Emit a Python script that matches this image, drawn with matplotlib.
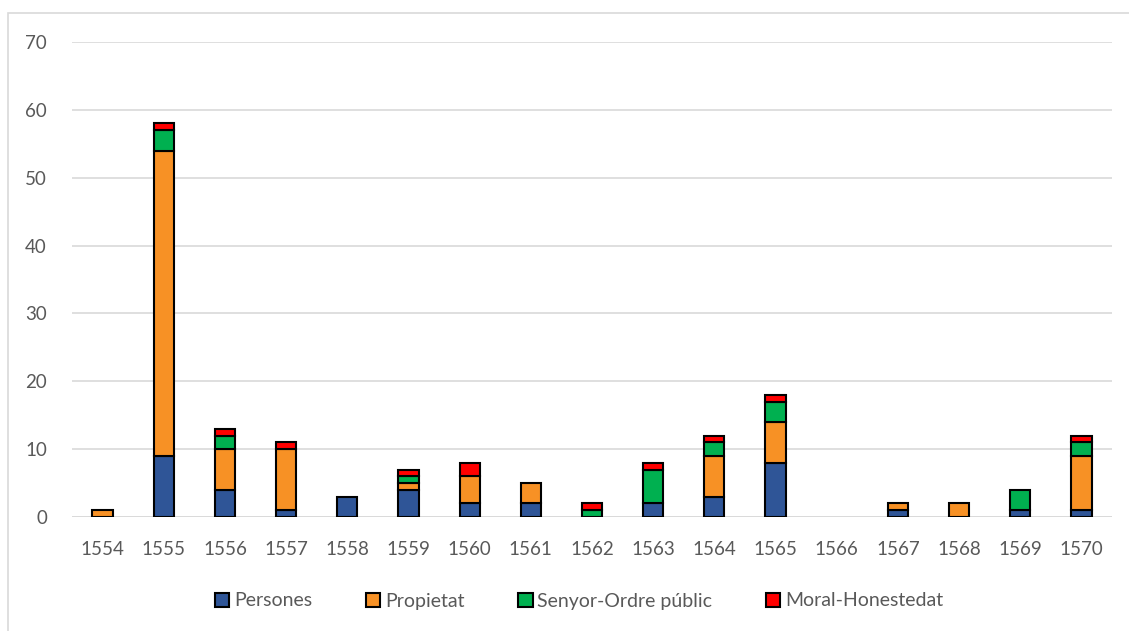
import matplotlib
matplotlib.use("Agg")
import matplotlib.pyplot as plt
from matplotlib.patches import Rectangle
import numpy as np

years = ["1554","1555","1556","1557","1558","1559","1560","1561","1562",
         "1563","1564","1565","1566","1567","1568","1569","1570"]
persones = [0, 9, 4, 1, 3, 4, 2, 2, 0, 2, 3, 8, 0, 1, 0, 1, 1]
propietat = [1, 45, 6, 9, 0, 1, 4, 3, 0, 0, 6, 6, 0, 1, 2, 0, 8]
senyor = [0, 3, 2, 0, 0, 1, 0, 0, 1, 5, 2, 3, 0, 0, 0, 3, 2]
moral = [0, 1, 1, 1, 0, 1, 2, 0, 1, 1, 1, 1, 0, 0, 0, 0, 1]
series_names = ["Persones", "Propietat", "Senyor-Ordre públic", "Moral-Honestedat"]
colors = ["#2F5597", "#F79125", "#00B050", "#FF0000"]

plt.rcParams['font.family'] = ['Lato', 'DejaVu Sans']
fig = plt.figure(figsize=(11.29, 6.31), dpi=100)
ax = fig.add_axes([72/1129, 1-517/631, (1112-72)/1129, (517-42)/631])

x = np.arange(len(years))
bottom = np.zeros(len(years))
for name, vals, c in zip(series_names, [persones, propietat, senyor, moral], colors):
    v = np.array(vals, dtype=float)
    mask = v > 0
    ax.bar(x[mask], v[mask], 0.33, bottom=bottom[mask], color=c, edgecolor="black",
           linewidth=1.5, label=name, zorder=3)
    bottom += v

ax.set_ylim(0, 70)
ax.set_xlim(-0.5, len(years)-0.5)
ax.set_yticks(range(0, 71, 10))
ax.set_xticks(x)
ax.set_xticklabels(years)
ax.tick_params(axis='both', length=0, labelsize=13.5, colors="#595959")
ax.tick_params(axis='x', pad=17)
ax.tick_params(axis='y', pad=18)
ax.grid(axis='y', color="#D9D9D9", linewidth=1.2, zorder=0)
for s in ax.spines.values():
    s.set_visible(False)
ax.axhline(0, color="#D9D9D9", linewidth=1.2, zorder=2)

leg = fig.legend(loc='center', bbox_to_anchor=(579/1129, 1-601/631), ncol=4, frameon=False,
                 fontsize=14, handlelength=0.75, handleheight=0.75, columnspacing=2.75,
                 handletextpad=0.25, labelcolor="#595959")

fig.patches.append(Rectangle((8/1129, -0.1), 1.2, 1.1 - 12.5/631, transform=fig.transFigure,
                             fill=False, edgecolor="#D9D9D9", linewidth=1.2))
fig.savefig("out.png", dpi=100)
